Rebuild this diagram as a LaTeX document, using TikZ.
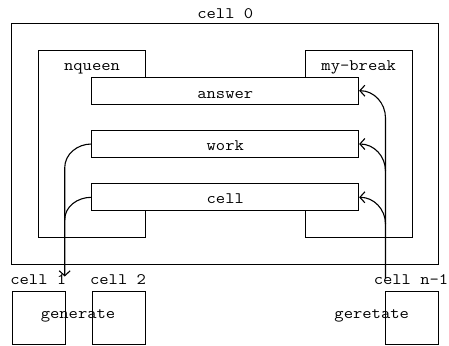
\documentclass[tikz,border=0pt]{standalone}
\usepackage{fontspec}
\setmonofont[FakeStretch=1.13]{Latin Modern Mono}
\usetikzlibrary{arrows.meta}
\begin{document}
\begin{tikzpicture}[x=1pt,y=-1pt,
  every node/.style={font=\ttfamily\fontsize{16}{18}\selectfont},
  box/.style={draw,line width=1pt,inner sep=0pt,minimum width=#1},
  lbl/.style={anchor=base,inner sep=0pt},
  conn/.style={line width=1.1pt},
  tip/.style={-{Straight Barb[length=5pt,width=11pt,line width=1.1pt]}}]
\useasboundingbox (0,0) rectangle (449,345);
% outer cell 0
\node[box=426.7pt,minimum height=240pt] (cell0) at (225.3,144) {};
\node[lbl] (cell0l) at (225.3,18.3) {cell 0};
% nqueen / my-break
\node[box=106.7pt,minimum height=186.7pt] (nq) at (92,144) {};
\node[lbl] (nql) at (92,70.7) {nqueen};
\node[box=106.7pt,minimum height=186.7pt] (mb) at (358.7,144) {};
\node[lbl] (mbl) at (358.7,70.7) {my-break};
\fill[white] (92,77.3) rectangle (358.7,210.7);
% inner boxes
\node[box=266.7pt,minimum height=26.7pt] (answer) at (225.3,90.7) {};
\node[lbl] (answerl) at (225.3,98.3) {answer};
\node[box=266.7pt,minimum height=26.7pt] (work) at (225.3,144) {};
\node[lbl] (workl) at (225.3,150.7) {work};
\node[box=266.7pt,minimum height=26.7pt] (cell) at (225.3,197.3) {};
\node[lbl] (celll) at (225.3,203.3) {cell};
% bottom cells
\node[box=53.3pt,minimum height=53pt] (c1) at (38.7,317.5) {};
\node[lbl] (c1l) at (38.3,284) {cell 1};
\node[box=53.3pt,minimum height=53pt] (c2) at (118.7,317.5) {};
\node[lbl] (c2l) at (118,284) {cell 2};
\node[box=53.3pt,minimum height=53pt] (cn) at (412,317.5) {};
\node[lbl] (cnl) at (411,284) {cell n-1};
\node[lbl] (gen) at (78,318.3) {generate};
\node[lbl] (ger) at (371.7,318.3) {geretate};
% left connectors
\coordinate (ltip) at (64.7,276.5);
\coordinate (ljoin) at (64.7,220);
\draw[conn] (work.west) to[out=180,in=90] (64.7,168) -- (ljoin);
\draw[conn,tip] (cell.west) to[out=180,in=90] (ljoin) -- (ltip);
% right connectors
\coordinate (rbot) at (385.5,278);
\draw[conn,tip] (rbot) -- (385.5,118) to[out=90,in=0] (answer.east);
\draw[conn,tip] (385.5,171) to[out=90,in=0] (work.east);
\draw[conn,tip] (385.5,224) to[out=90,in=0] (cell.east);
\end{tikzpicture}
\end{document}
